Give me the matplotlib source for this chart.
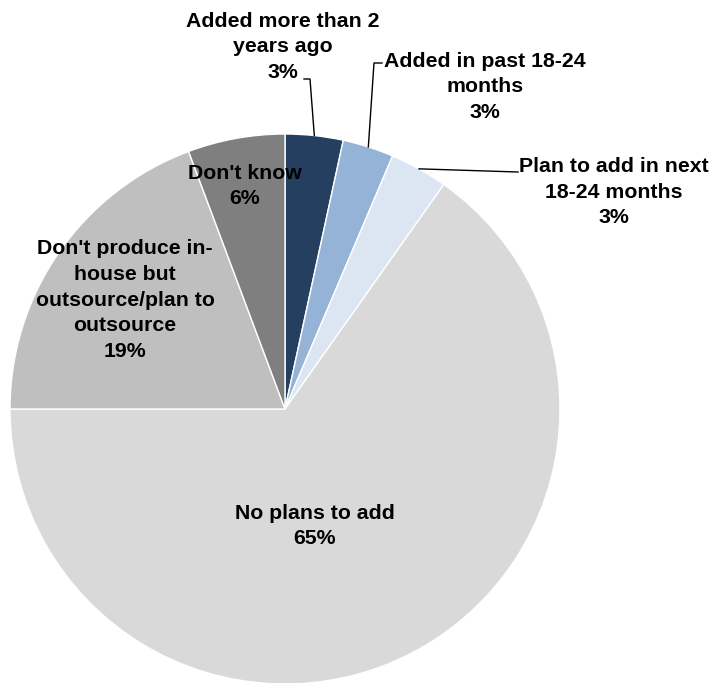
import numpy as np
import matplotlib
matplotlib.use('Agg')
import matplotlib.pyplot as plt

# survey answers, clockwise from 12 o'clock
categories = ['Added more than 2\nyears ago',
              'Added in past 18-24\nmonths',
              'Plan to add in next\n18-24 months',
              'No plans to add',
              "Don't produce in-\nhouse but\noutsource/plan to\noutsource",
              "Don't know"]
shares = [3.4, 3.0, 3.4, 65.2, 19.3, 5.7]
colors = ['#243f60', '#95b3d7', '#dce6f2', '#d9d9d9', '#bfbfbf', '#7f7f7f']

W, H = 712, 683
fig = plt.figure(figsize=(W / 100, H / 100), dpi=100)
ax = fig.add_axes([0, 0, 1, 1])

cx, cy, r = 285, H - 409, 275
wedges, _ = ax.pie(shares, colors=colors, startangle=90, counterclock=False,
                   center=(cx, cy), radius=r,
                   wedgeprops=dict(edgecolor='white', linewidth=1))
ax.set_xlim(0, W)
ax.set_ylim(0, H)
ax.set_aspect('equal')
ax.axis('off')

font = dict(family='Liberation Sans', fontweight='bold', fontsize=15.3,
            ha='center', va='center', linespacing=1.45, color='black')

# label centres in pixels (from top-left)
label_pos = [(283, 47), (485, 87), (614, 192), (315, 526), (125, 300), (245, 186)]

for lab, val, (px, py) in zip(categories, shares, label_pos):
    ax.text(px, H - py, f'{lab}\n{val:.0f}%', **font)


def edge_point(i):
    # point on the rim at the middle of wedge i
    w = wedges[i]
    ang = np.deg2rad((w.theta1 + w.theta2) / 2)
    return cx + r * np.cos(ang), cy + r * np.sin(ang)


# leader lines for the three thin slices
leaders = [
    [(304, 79), (310, 79)],
    [(382, 63), (374, 63)],
    [(518, 172)],
]
for i, pts in enumerate(leaders):
    ex, ey = edge_point(i)
    xs = [p[0] for p in pts] + [ex]
    ys = [H - p[1] for p in pts] + [ey]
    ax.plot(xs, ys, color='black', linewidth=1)

fig.savefig('out.png', dpi=100)
